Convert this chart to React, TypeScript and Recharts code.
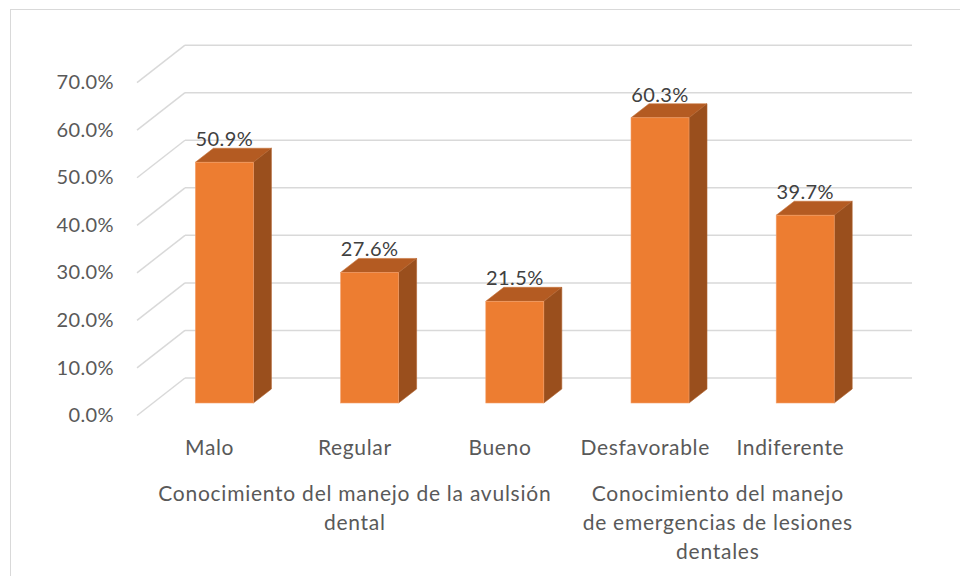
import React from 'react';
import { Bar, BarChart, CartesianGrid, LabelList, XAxis, YAxis } from 'recharts';

// values (percent)
const categories = ['Malo', 'Regular', 'Bueno', 'Desfavorable', 'Indiferente'];
const values = [50.9, 27.6, 21.5, 60.3, 39.7];
const yTicks = [0, 10, 20, 30, 40, 50, 60, 70];
const groupLabels = [
  ['Conocimiento del manejo de la avulsión', 'dental'],
  ['Conocimiento del manejo', 'de emergencias de lesiones', 'dentales'],
];
const groupSizes = [3, 2];

const data = categories.map((name, i) => ({ name, value: values[i] }));

const FONT = 'Lato, "Open Sans", sans-serif';
const GRID = '#D9D9D9';

// 3d layout: bars sit on a plane between the front edge and the back wall
const BAR_BASE = 403;
const BAR_SCALE = 331.1 / 70;
const BACK_BASE = 378;
const FRONT_BASE = 415.5;
const WALL_SCALE = 4.755;
const BACK_LEFT = 185;
const FRONT_LEFT = 137;
const BACK_RIGHT = 912;
const FRONT_SHIFT = 14.4;
const BAND = 145.2;
const DX = 18;
const DY = 14;

const valueFromY = (y: number) => (BAR_BASE - y) / BAR_SCALE;

const GridLine = (props: any) => {
  const v = valueFromY(props.y1);
  const yb = BACK_BASE - v * WALL_SCALE;
  const yf = FRONT_BASE - v * WALL_SCALE;
  return (
    <g key={props.key ?? `g-${props.index}`}>
      <line x1={FRONT_LEFT} y1={yf} x2={BACK_LEFT} y2={yb} stroke={GRID} strokeWidth={1.5} />
      <line x1={BACK_LEFT} y1={yb} x2={BACK_RIGHT} y2={yb} stroke={GRID} strokeWidth={1.5} />
    </g>
  );
};

const YTick = (props: any) => {
  const v = props.payload.value;
  return (
    <text x={114} y={FRONT_BASE - v * WALL_SCALE + 1.5} textAnchor="end" dominantBaseline="middle"
      fill="#595959" fontSize={20} letterSpacing={0.4} fontFamily={FONT}>
      {v.toFixed(1)}%
    </text>
  );
};

const XTick = (props: any) => {
  const { x, index, payload } = props;
  const cx = x - FRONT_SHIFT;
  let start = 0;
  let group: React.ReactNode = null;
  groupSizes.forEach((size, g) => {
    if (index === start) {
      const gx = cx + ((size - 1) * BAND) / 2;
      group = (
        <text textAnchor="middle" fill="#595959" fontSize={21} letterSpacing={0.75} fontFamily={FONT}>
          {groupLabels[g].map((line, k) => (
            <tspan key={k} x={gx} y={495.5 + k * 29} dominantBaseline="middle">{line}</tspan>
          ))}
        </text>
      );
    }
    start += size;
  });
  return (
    <g>
      <text x={cx} y={449.5} textAnchor="middle" dominantBaseline="middle" fill="#595959" fontSize={21}
        letterSpacing={0.65} fontFamily={FONT}>
        {payload.value}
      </text>
      {group}
    </g>
  );
};

const Box = (props: any) => {
  const { x, y, width, height } = props;
  if (height == null || height <= 0) return null;
  const r = x + width;
  const b = y + height;
  return (
    <g>
      <polygon points={`${x},${y} ${x + DX},${y - DY} ${r + DX},${y - DY} ${r},${y}`} fill="#B45B22" stroke="#C8733A" strokeWidth={0.6} />
      <polygon points={`${r},${y} ${r + DX},${y - DY} ${r + DX},${b - DY} ${r},${b}`} fill="#9A4F1D" stroke="#B0622E" strokeWidth={0.6} />
      <rect x={x} y={y} width={width} height={height} fill="#ED7D31" stroke="#F3A06B" strokeWidth={0.6} />
    </g>
  );
};

const ValueLabel = (props: any) => {
  const { x, y, width, value } = props;
  return (
    <text x={x + width / 2} y={y - 16} textAnchor="middle" fill="#404040" fontSize={20} letterSpacing={0.4} fontFamily={FONT}>
      {Number(value).toFixed(1)}%
    </text>
  );
};

export default function App() {
  return (
    <div style={{ position: 'absolute', left: 0, top: 0, width: 960, height: 576, background: '#fff', overflow: 'hidden' }}>
      <div style={{ position: 'absolute', left: 10, top: 9, width: 980, height: 600, border: `1.5px solid ${GRID}` }} />
      <div style={{ position: 'absolute', left: 0, top: 0 }}>
        <BarChart width={960} height={576} data={data} margin={{ top: BAR_BASE - 70 * BAR_SCALE, right: 82.6, bottom: 0, left: 0 }}>
          <CartesianGrid vertical={false} horizontal={GridLine} />
          <XAxis dataKey="name" axisLine={false} tickLine={false} height={576 - BAR_BASE} tick={XTick} interval={0} />
          <YAxis domain={[0, 70]} ticks={yTicks} axisLine={false} tickLine={false} width={151.4} tick={YTick} />
          <Bar dataKey="value" barSize={58} shape={Box} isAnimationActive={false}>
            <LabelList dataKey="value" content={ValueLabel} />
          </Bar>
        </BarChart>
      </div>
    </div>
  );
}
